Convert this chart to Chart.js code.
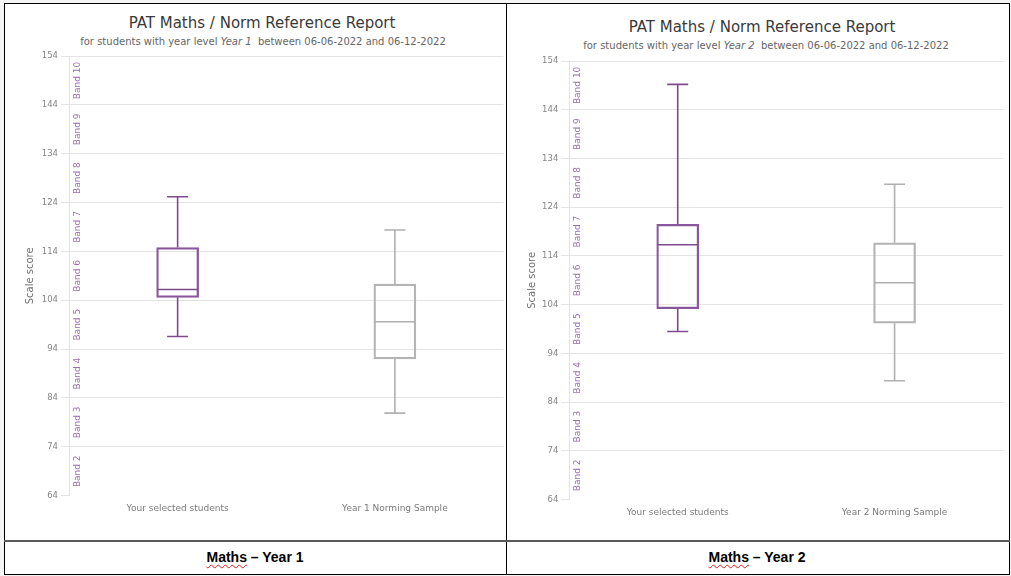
<!DOCTYPE html>
<html>
<head>
<meta charset="utf-8">
<script src="https://cdn.jsdelivr.net/npm/chart.js@4/dist/chart.umd.min.js"></script>
<style>
  html, body { margin: 0; padding: 0; background: #f4f4f4; }
  body { width: 1011px; height: 576px; position: relative; overflow: hidden; font-family: "DejaVu Sans", sans-serif; }
  .frame { position: absolute; left: 4px; top: 3px; width: 1006px; height: 572px; box-sizing: border-box; border: 1px solid #000; background: #fff; }
  .vline { position: absolute; left: 506px; top: 3px; width: 1px; height: 572px; background: #000; }
  .hline { position: absolute; left: 4px; top: 540px; width: 1006px; height: 2px; background: #5a5a5a; }
  canvas { position: absolute; }
  .title { position: absolute; width: 500px; text-align: center; color: #3a3a3a; font-size: 15px; line-height: 18px; white-space: nowrap; }
  .sub { position: absolute; width: 500px; text-align: center; color: #666; font-size: 10px; line-height: 12px; white-space: nowrap; }
  .caption { position: absolute; width: 500px; text-align: center; font-family: "Liberation Sans", Arial, sans-serif; font-weight: bold; font-size: 14px; line-height: 16px; color: #000; }
  .caption .sp { text-decoration: underline wavy #e02020; text-decoration-thickness: 1px; text-underline-offset: 2px; }
</style>
</head>
<body>
<div class="frame"></div>
<div class="vline"></div>
<div class="hline"></div>

<div class="title" style="left:12px;top:14px">PAT Maths / Norm Reference Report</div>
<div class="sub" style="left:13px;top:36px">for students with year level <i>Year 1</i>&nbsp; between 06-06-2022 and 06-12-2022</div>
<canvas id="chartY1" width="500" height="535" style="left:5px;top:4px"></canvas>

<div class="title" style="left:512px;top:18px">PAT Maths / Norm Reference Report</div>
<div class="sub" style="left:516px;top:40px">for students with year level <i>Year 2</i>&nbsp; between 06-06-2022 and 06-12-2022</div>
<canvas id="chartY2" width="500" height="535" style="left:507px;top:4px"></canvas>

<div class="caption" style="left:5px;top:549px"><span class="sp">Maths</span> – Year 1</div>
<div class="caption" style="left:507px;top:549px"><span class="sp">Maths</span> – Year 2</div>

<script>
// Scale-score axis and achievement bands
const yTicks = [64, 74, 84, 94, 104, 114, 124, 134, 144, 154];
const bandLabels = ['Band 2', 'Band 3', 'Band 4', 'Band 5', 'Band 6', 'Band 7', 'Band 8', 'Band 9', 'Band 10'];

// Year 1: five-number summaries (selected students, norming sample)
const categoriesY1 = ['Your selected students', 'Year 1 Norming Sample'];
const minY1    = [96.6, 80.9];
const q1Y1     = [104.6, 92.0];
const medianY1 = [106.2, 99.6];
const q3Y1     = [114.8, 107.3];
const maxY1    = [125.2, 118.4];

// Year 2: five-number summaries (selected students, norming sample)
const categoriesY2 = ['Your selected students', 'Year 2 Norming Sample'];
const minY2    = [98.5, 88.4];
const q1Y2     = [103.2, 100.2];
const medianY2 = [116.3, 108.5];
const q3Y2     = [120.5, 116.7];
const maxY2    = [149.2, 128.7];

const boxColors = ['#8a579c', '#b4b4b4'];
const whiskerColors = ['#7e4b8c', '#b0b0b0'];
const bandColor = '#9c70ae';
const gridColor = '#e4e4e4';

Chart.defaults.font.family = '"DejaVu Sans", sans-serif';

// Whiskers, caps and median lines drawn on top of the floating-bar boxes
const whiskerPlugin = {
  id: 'whiskers',
  afterDatasetsDraw(chart, args, opts) {
    const { ctx, scales: { x, y } } = chart;
    const s = opts.stats;
    const meta = chart.getDatasetMeta(0);
    ctx.save();
    ctx.lineWidth = 1.6;
    s.min.forEach((_, i) => {
      const cx = x.getPixelForValue(i);
      const bar = meta.data[i];
      const half = bar.width / 2;
      const cap = half / 2;
      const pMin = y.getPixelForValue(s.min[i]);
      const pQ1 = y.getPixelForValue(s.q1[i]);
      const pMed = y.getPixelForValue(s.median[i]);
      const pQ3 = y.getPixelForValue(s.q3[i]);
      const pMax = y.getPixelForValue(s.max[i]);
      ctx.strokeStyle = whiskerColors[i];
      ctx.beginPath();
      ctx.moveTo(cx, pQ3); ctx.lineTo(cx, pMax);
      ctx.moveTo(cx - cap, pMax); ctx.lineTo(cx + cap, pMax);
      ctx.moveTo(cx, pQ1); ctx.lineTo(cx, pMin);
      ctx.moveTo(cx - cap, pMin); ctx.lineTo(cx + cap, pMin);
      ctx.moveTo(cx - half + 1, pMed); ctx.lineTo(cx + half - 1, pMed);
      ctx.stroke();
    });
    ctx.restore();
  }
};

// Rotated band names inside each 10-point band, next to the y axis
const bandPlugin = {
  id: 'bands',
  afterDraw(chart) {
    const { ctx, chartArea, scales: { y } } = chart;
    ctx.save();
    ctx.fillStyle = bandColor;
    ctx.font = '9px "DejaVu Sans", sans-serif';
    ctx.textAlign = 'center';
    ctx.textBaseline = 'middle';
    bandLabels.forEach((label, i) => {
      const mid = (yTicks[i] + yTicks[i + 1]) / 2;
      const py = y.getPixelForValue(mid);
      ctx.save();
      ctx.translate(chartArea.left + 8.5, py);
      ctx.rotate(-Math.PI / 2);
      ctx.fillText(label, 0, 0);
      ctx.restore();
    });
    ctx.restore();
  }
};

function makeChart(id, categories, stats, lay) {
  return new Chart(document.getElementById(id), {
    type: 'bar',
    data: {
      labels: categories,
      datasets: [{
        data: categories.map((_, i) => [stats.q1[i], stats.q3[i]]),
        backgroundColor: 'rgba(255,255,255,0)',
        borderColor: boxColors,
        borderWidth: 1.6,
        borderSkipped: false,
        barThickness: 42
      }]
    },
    options: {
      responsive: false,
      animation: false,
      devicePixelRatio: 1,
      layout: { padding: { top: lay.top, left: 0, right: lay.right, bottom: 0 } },
      plugins: {
        legend: { display: false },
        tooltip: { enabled: false },
        whiskers: { stats }
      },
      scales: {
        x: {
          grid: { display: false },
          border: { display: false },
          ticks: { color: '#7a7a7a', font: { size: 9 }, padding: 0 },
          afterFit: s => { s.height = lay.xHeight; }
        },
        y: {
          min: yTicks[0],
          max: yTicks[yTicks.length - 1],
          afterBuildTicks: s => { s.ticks = yTicks.map(v => ({ value: v })); },
          grid: {
            color: c => (c.tick && c.tick.value === yTicks[0]) ? 'rgba(0,0,0,0)' : gridColor,
            tickColor: gridColor,
            tickLength: 8
          },
          border: { color: gridColor },
          ticks: { color: '#858585', font: { size: 8.5 }, padding: 3 },
          title: {
            display: true,
            text: 'Scale score',
            color: '#707070',
            font: { size: 10 },
            padding: { top: 19, bottom: 0 }
          },
          afterFit: s => { s.width = lay.yWidth; }
        }
      }
    },
    plugins: [whiskerPlugin, bandPlugin]
  });
}

makeChart('chartY1', categoriesY1,
  { min: minY1, q1: q1Y1, median: medianY1, q3: q3Y1, max: maxY1 },
  { top: 52, right: 1.5, xHeight: 43.3, yWidth: 64 });

makeChart('chartY2', categoriesY2,
  { min: minY2, q1: q1Y2, median: medianY2, q3: q3Y2, max: maxY2 },
  { top: 57, right: 4, xHeight: 39.3, yWidth: 62.3 });
</script>
</body>
</html>
